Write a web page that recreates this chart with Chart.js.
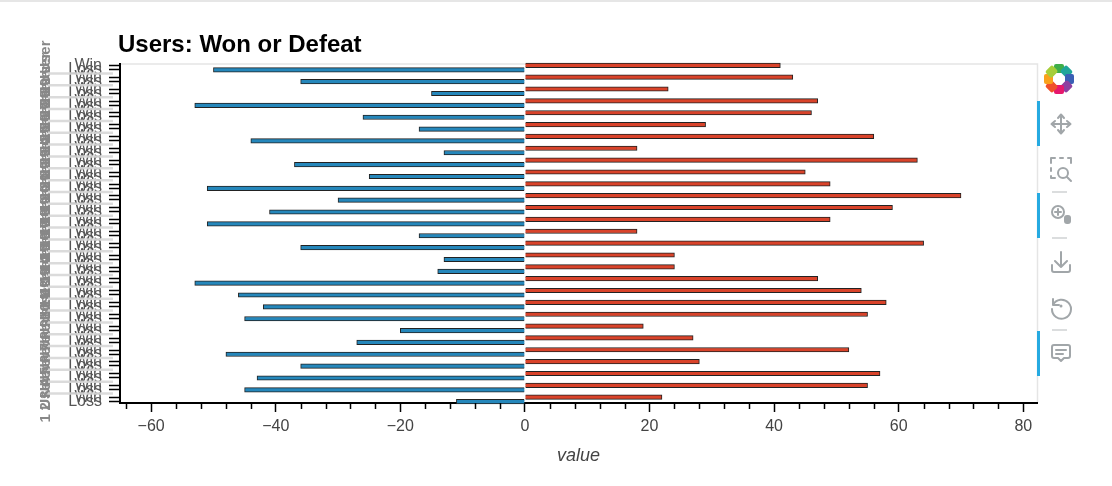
<!DOCTYPE html>
<html><head><meta charset="utf-8">
<style>
html,body{margin:0;padding:0;background:#fff;overflow:hidden;width:1112px;height:486px}
#wrap{position:relative;width:1112px;height:486px}
#top{position:absolute;left:0;top:0;width:1112px;height:2px;background:#e6e6e6}
canvas{position:absolute;left:0;top:0}
svg{position:absolute;left:0;top:0}
</style>
<script src="https://cdn.jsdelivr.net/npm/chart.js@4/dist/chart.umd.min.js"></script>
</head><body><div id="wrap"><canvas id="c" width="1112" height="486"></canvas>
<svg width="1112" height="486" viewBox="0 0 1112 486" fill="none" stroke="#a1a6a9" stroke-width="2" stroke-linecap="round" stroke-linejoin="round">
<g stroke="none" fill="#26aae1"><rect x="1037" y="101" width="3" height="45"/><rect x="1037" y="193" width="3" height="45"/><rect x="1037" y="331" width="3" height="45"/></g>
<g stroke="none" transform="translate(1059,79)">
<rect x="-5" y="-15" width="10" height="9" rx="2" fill="#3fae49"/>
<rect x="-5" y="-15" width="10" height="9" rx="2" fill="#1fa59a" transform="rotate(45)"/>
<rect x="-5" y="-15" width="10" height="9" rx="2" fill="#3a5fb5" transform="rotate(90)"/>
<rect x="-5" y="-15" width="10" height="9" rx="2" fill="#8e3fa0" transform="rotate(135)"/>
<rect x="-5" y="-15" width="10" height="9" rx="2" fill="#e6186d" transform="rotate(180)"/>
<rect x="-5" y="-15" width="10" height="9" rx="2" fill="#f0502a" transform="rotate(225)"/>
<rect x="-5" y="-15" width="10" height="9" rx="2" fill="#f9a11b" transform="rotate(270)"/>
<rect x="-5" y="-15" width="10" height="9" rx="2" fill="#a6ce39" transform="rotate(315)"/>
</g>
<path d="M1053 124h16M1061 116v16M1058 118l3-3.500 3 3.500M1058 130l3 3.500 3-3.500M1055 121l-3.500 3 3.500 3M1067 121l3.500 3-3.500 3" stroke-width="2"/>
<path d="M1051 163v-5h4M1060 158h3M1068 158h3v5M1051 168v3M1051 176v2h4" stroke-width="2"/><circle cx="1063" cy="173" r="5"/><path d="M1067 177l4 4"/>
<circle cx="1058" cy="212" r="6"/><path d="M1058 209v6M1055 212h6"/><rect x="1064" y="215" width="7" height="9" rx="3" fill="#a1a6a9" stroke="none"/>
<path d="M1061 252v15M1055 261l6 6 6-6M1052 265v5q0 2 2 2h14q2 0 2-2v-5"/>
<path d="M1053 299v6h6M1053 305a9.500 9.500 0 1 1 -1 4"/><circle cx="1061" cy="306" r="1.500" fill="#a1a6a9" stroke="none"/>
<path d="M1054 345h14q2 0 2 2v9q0 2-2 2h-4l-3 3-3-3h-4q-2 0-2-2v-9q0-2 2-2zM1056 350h10M1056 354h7"/>
<g stroke="#cfd2d4" stroke-width="1.500" stroke-linecap="butt"><path d="M1052 192h15M1052 238h15M1052 330h15"/></g>
</svg>
<div id="top"></div></div>
<script>
const users = [1,2,3,4,5,6,7,8,9,10,11,12,13,14,15,16,17,18,19,20,21,22,23,24,25,26,27,28,29];
const lossValues = [-11,-45,-43,-36,-48,-27,-20,-45,-42,-46,-53,-14,-13,-36,-17,-51,-41,-30,-51,-25,-37,-13,-44,-17,-26,-53,-15,-36,-50];
const winValues = [22,55,57,28,52,27,19,55,58,54,47,24,24,64,18,49,59,70,49,45,63,18,56,29,46,47,23,43,41];
const outcomes = ['Loss','Win'];
const xMajorTicks = [-60,-40,-20,0,20,40,60,80];
const xMinorTicks = [-64,-56,-52,-48,-44,-36,-32,-28,-24,-16,-12,-8,-4,4,8,12,16,24,28,32,36,44,48,52,56,64,68,72,76];
const titleText = 'Users: Won or Defeat';
const xTitleText = 'value';
const groupSuffix = 'User';

const decor = {
  id:'decor',
  beforeDraw(ch){
    const c=ch.ctx, a=ch.chartArea;
    c.save();
    c.strokeStyle='#e5e5e5'; c.lineWidth=1.5;
    c.beginPath(); c.moveTo(a.left,a.top); c.lineTo(a.right+0.5,a.top); c.lineTo(a.right+0.5,a.bottom); c.stroke();
    c.restore();
  },
  beforeDatasetsDraw(ch){
    const c=ch.ctx, y=ch.scales.y;
    c.save();
    c.strokeStyle='rgba(215,215,215,0.9)'; c.lineWidth=2.5;
    users.slice(0,-1).forEach(u=>{
      const p=y.getPixelForValue(u+0.5);
      c.beginPath(); c.moveTo(48,p); c.lineTo(113,p); c.stroke();
    });
    c.restore();
  },
  afterDraw(ch){
    const c=ch.ctx, a=ch.chartArea, x=ch.scales.x;
    c.save(); c.strokeStyle='#000'; c.lineWidth=1.5;
    xMinorTicks.forEach(v=>{
      const p=Math.round(x.getPixelForValue(v))+0.5;
      c.beginPath(); c.moveTo(p,a.bottom); c.lineTo(p,a.bottom+6); c.stroke();
    });
    c.restore();
  },
  afterLayout(ch){ ch.titleBlock.left=118; }
};

new Chart(document.getElementById('c'),{
  type:'bar',
  plugins:[decor],
  data:{datasets:[
    {label:'Win',data:users.map((u,i)=>({x:winValues[i],y:u})),backgroundColor:'#d9432a',borderColor:'#222',borderWidth:1,barThickness:4.5,clip:false},
    {label:'Loss',data:users.map((u,i)=>({x:lossValues[i],y:u})),backgroundColor:'#2587bb',borderColor:'#222',borderWidth:1,barThickness:4.5,clip:false}
  ]},
  options:{
    indexAxis:'y',responsive:false,animation:false,devicePixelRatio:1,
    layout:{padding:{top:31.2,right:75,bottom:19,left:0}},
    plugins:{
      legend:{display:false},tooltip:{enabled:false},
      title:{display:true,text:titleText,align:'start',color:'#000',fullSize:false,
        font:{family:'"Liberation Sans"',size:24,weight:'bold'},padding:{top:0,bottom:4}}
    },
    scales:{
      x:{type:'linear',position:'bottom',min:-65,max:82.2,
        afterBuildTicks(s){s.ticks=xMajorTicks.map(v=>({value:v}));},
        afterFit(s){s.height=64;},
        ticks:{color:'#444',font:{family:'"Liberation Sans"',size:16},padding:5,maxRotation:0,autoSkip:false,
          callback:v=>String(v).replace('-','\u2212')},
        grid:{drawOnChartArea:false,tickLength:9,tickColor:'#000',tickWidth:1.5},
        border:{color:'#000',width:2},
        title:{display:true,text:xTitleText,color:'#444',font:{family:'"Liberation Sans"',size:18,style:'italic'},padding:{top:5,bottom:0}}
      },
      y:{type:'linear',position:'left',min:0.7,max:29.3,offset:false,
        afterBuildTicks(s){
          const t=[];
          users.forEach(u=>{t.push({value:u-0.169,label:outcomes[0]});t.push({value:u+0.169,label:outcomes[1]});});
          s.ticks=t;
        },
        afterFit(s){s.width=62;},
        ticks:{color:'#555',font:{family:'"Liberation Sans"',size:16},padding:7,autoSkip:false,
          callback(v,i){return outcomes[i%2];}},
        grid:{drawOnChartArea:false,tickLength:11,tickColor:'#000',tickWidth:1.5,offset:false},
        border:{color:'#000',width:2}
      },
      yUser:{type:'linear',position:'left',min:0.7,max:29.3,offset:false,
        afterBuildTicks(s){s.ticks=users.map(u=>({value:u}));},
        afterFit(s){s.width=58;},
        ticks:{color:'#888',font:{family:'"Liberation Sans"',size:15,weight:'bold'},padding:-15,autoSkip:false,minRotation:90,maxRotation:90,crossAlign:'center',
          callback:v=>v+' '+groupSuffix},
        grid:{display:false,drawTicks:false},border:{display:false}
      }
    }
  }
});
</script></body></html>
